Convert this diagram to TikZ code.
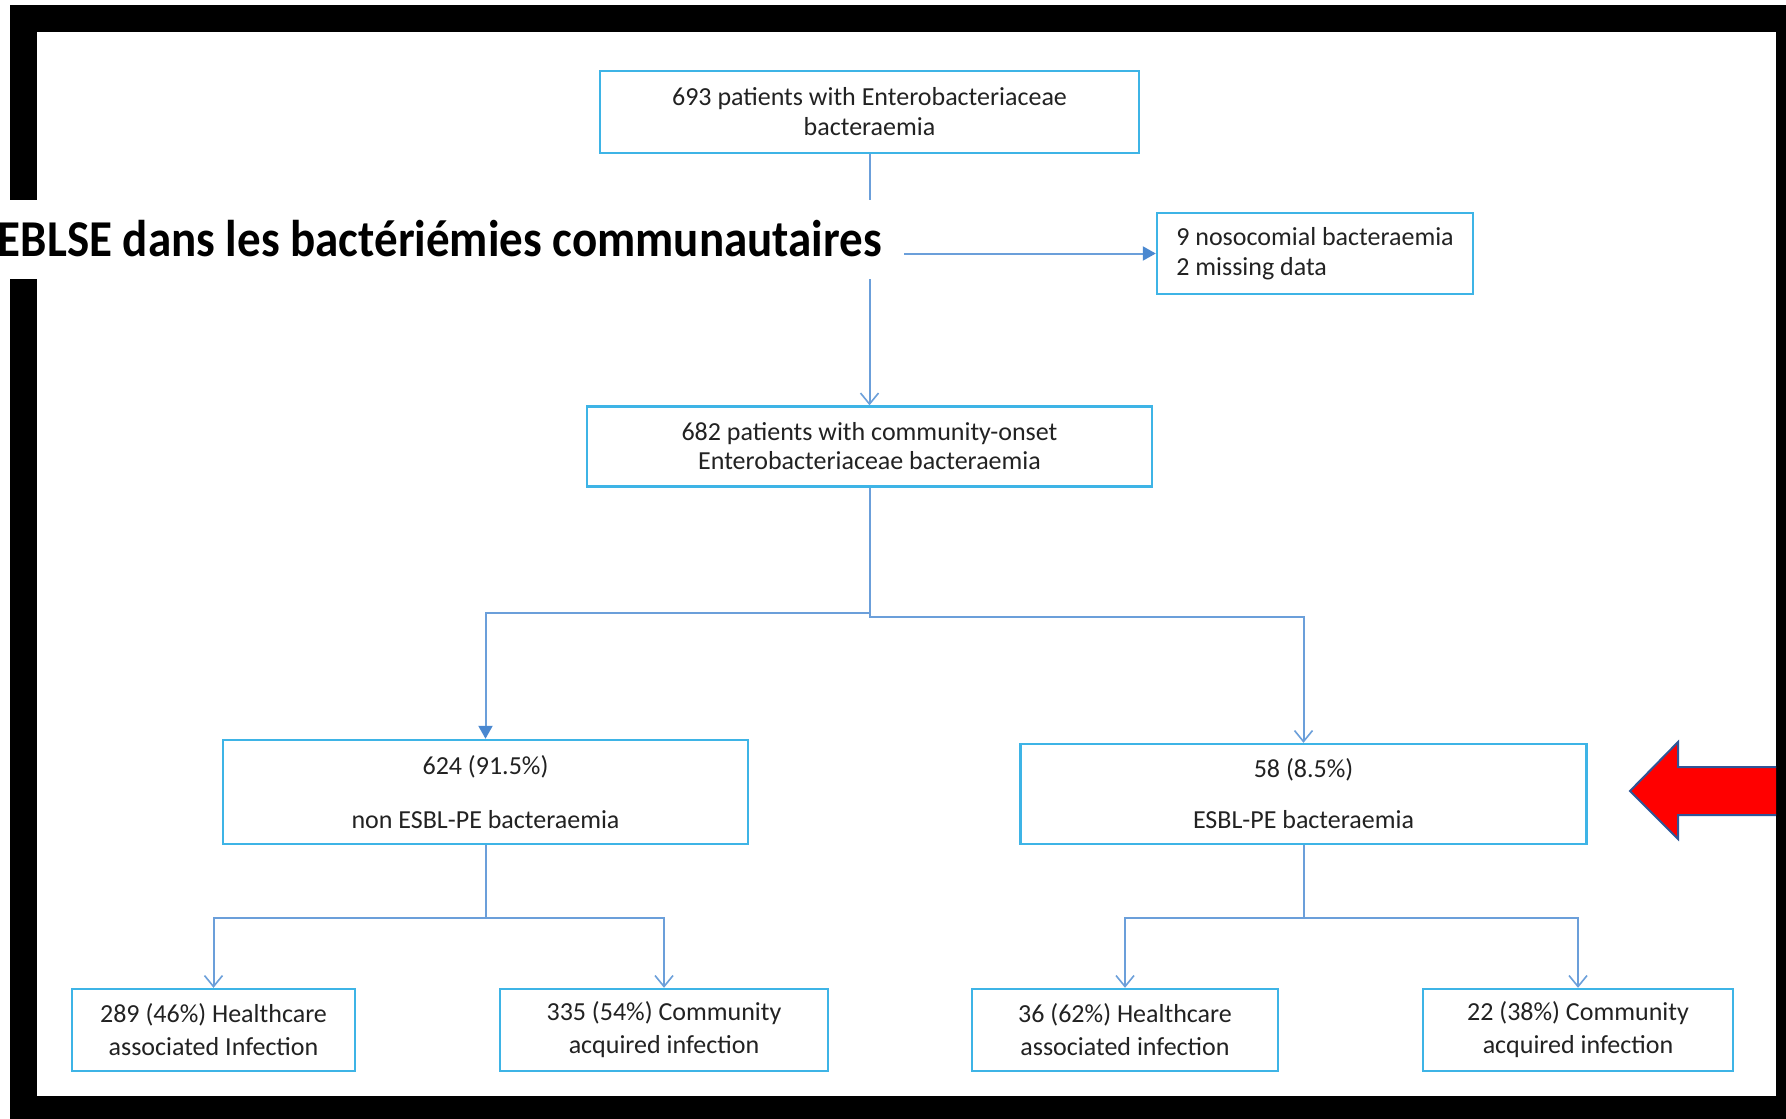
\documentclass[tikz,border=0pt]{standalone}
\usepackage{fontspec}
\setmainfont{Carlito}
\usetikzlibrary{arrows.meta}
\definecolor{boxblue}{HTML}{3EB4E6}
\definecolor{linkblue}{HTML}{6B9FDA}
\definecolor{tipblue}{HTML}{4A88D0}
\definecolor{arrowedge}{HTML}{2F5597}
\definecolor{txt}{HTML}{222222}
\begin{document}
\begin{tikzpicture}[x=1pt,y=-1pt,
  box/.style={draw=boxblue, line width=2.4pt, inner sep=0pt, text=txt, align=center, font=\fontsize{26}{30}\selectfont},
  lowbox/.style={box, minimum height=82pt, font=\fontsize{26}{33}\selectfont},
  conn/.style={draw=linkblue, line width=2pt},
  opentip/.style={-{Straight Barb[length=11pt,width=18pt,line width=1.6pt]}},
  filltip/.style={-{Triangle[length=13pt,width=14pt,fill=tipblue,color=tipblue]}}]
\useasboundingbox (0,0) rectangle (1786,1119);
% frame
\fill[black] (10,5) rectangle (1786,1119);
\fill[white] (37,32) rectangle (1776,1096);
% red arrow
\begin{scope}
\clip (37,32) rectangle (1776,1096);
\draw[fill=red, draw=arrowedge, line width=2pt, line join=miter]
  (1630,791) -- (1678,742) -- (1678,767) -- (1800,767) -- (1800,815) -- (1678,815) -- (1678,839) -- cycle;
\end{scope}
% boxes
\node[box, minimum width=539pt, minimum height=82pt] (b1) at (869.5,112) {693 patients with Enterobacteriaceae\\bacteraemia};
\node[box, align=left, minimum width=316pt, minimum height=81pt] (nos) at (1315,253.5) {9 nosocomial bacteraemia\\2 missing data};
\node[box, minimum width=565pt, minimum height=80pt, font=\fontsize{26}{29}\selectfont] (b2) at (869.5,446.5) {682 patients with community-onset\\Enterobacteriaceae bacteraemia};
\node[box, minimum width=525pt, minimum height=104pt] (b3) at (485.5,792) {624 (91.5\%)\\[24pt]non ESBL-PE bacteraemia};
\node[box, minimum width=566pt, minimum height=100pt] (b4) at (1303.5,794) {58 (8.5\%)\\[21pt]ESBL-PE bacteraemia};
\node[lowbox, minimum width=283pt] (b5) at (213.5,1030) {289 (46\%) Healthcare\\associated Infection};
\node[lowbox, minimum width=328pt] (b6) at (664,1030) {335 (54\%) Community\\acquired infection};
\node[lowbox, minimum width=306pt] (b7) at (1125,1030) {36 (62\%) Healthcare\\associated infection};
\node[lowbox, minimum width=310pt] (b8) at (1578,1030) {22 (38\%) Community\\acquired infection};
% connectors
\coordinate (j1) at (b1.south |- nos.west);
\draw[conn,opentip] (b1.south) -- (b2.north);
\draw[conn,filltip] (j1) -- (nos.west);
\draw[conn,filltip] (b2.south) -- ++(0,125.5) -| (b3.north);
\draw[conn,opentip] (b2.south) -- ++(0,129.5) -| (b4.north);
\draw[conn,opentip] (b3.south) -- ++(0,73) -| (b5.north);
\draw[conn,opentip] (b3.south) -- ++(0,73) -| (b6.north);
\draw[conn,opentip] (b4.south) -- ++(0,73) -| (b7.north);
\draw[conn,opentip] (b4.south) -- ++(0,73) -| (b8.north);
% title over the diagram
\fill[white] (0,200) rectangle (904,279);
\node[anchor=base east, inner sep=0pt, text=black, font=\bfseries\fontsize{47}{50}\selectfont] (title) at (882,256) {\scalebox{1}[1.1]{EBLSE dans les bactériémies communautaires}};
\end{tikzpicture}
\end{document}
